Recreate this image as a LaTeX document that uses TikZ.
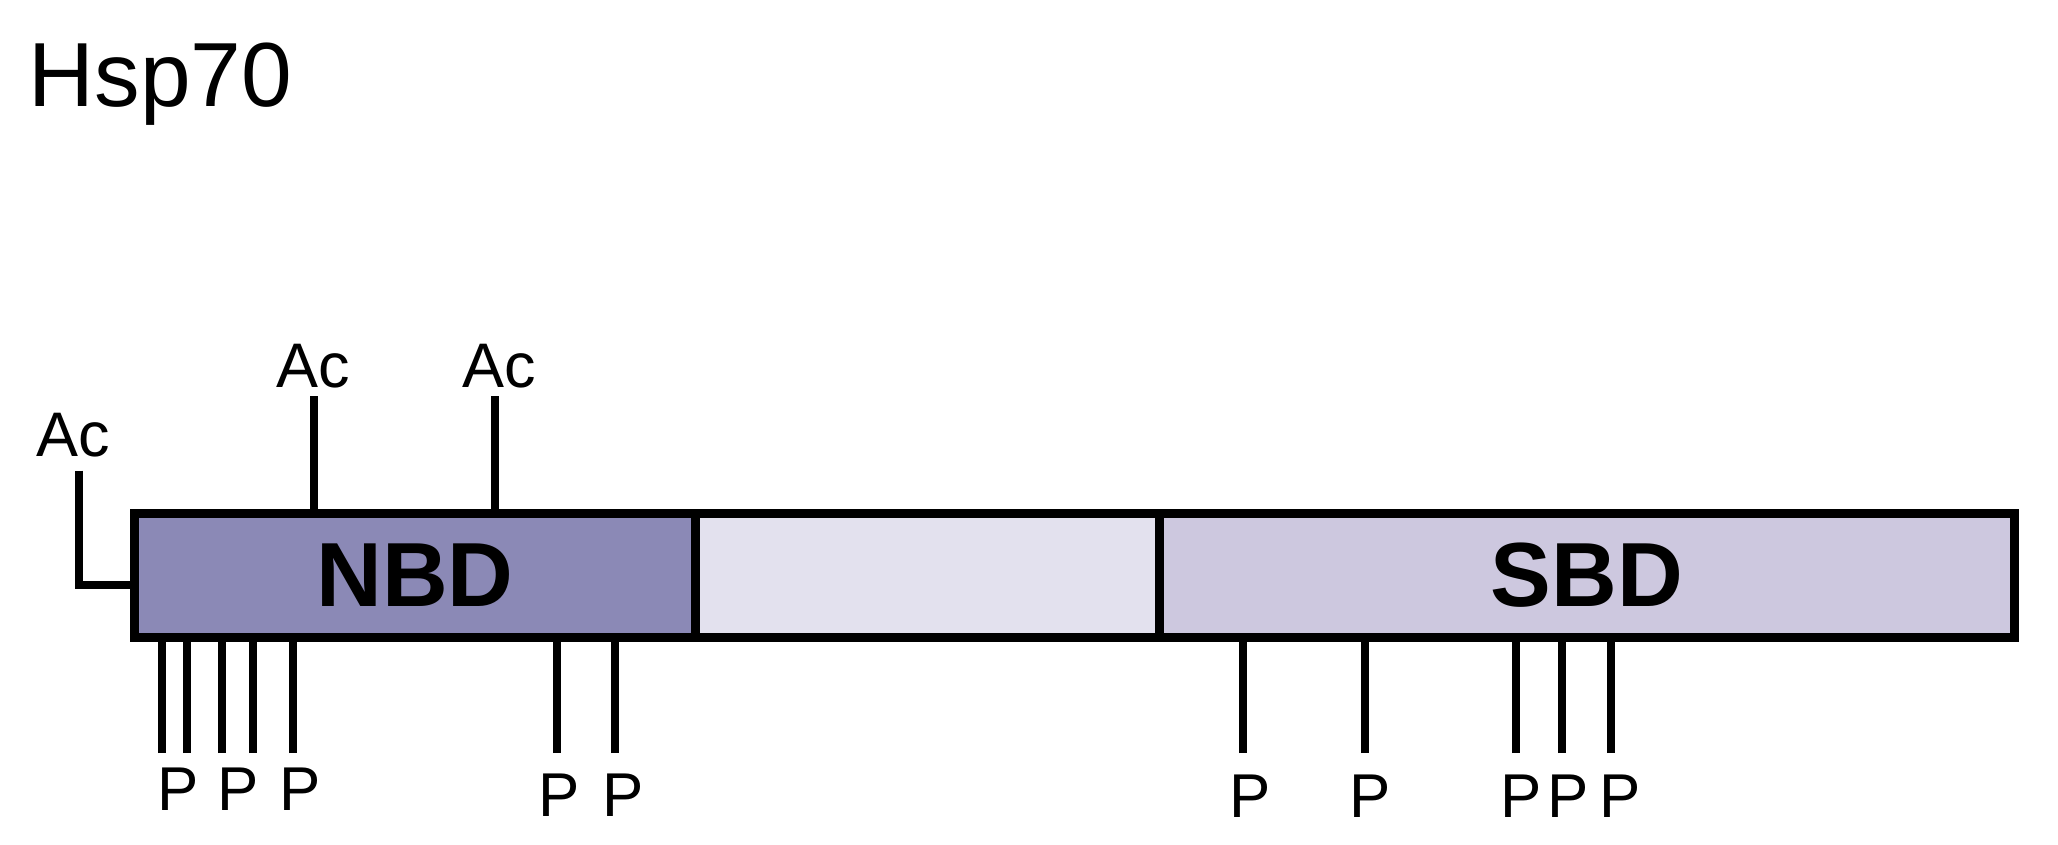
\documentclass[tikz,border=0pt]{standalone}
\usepackage{fontspec}
\setmainfont{Liberation Sans}
\definecolor{nbdcol}{RGB}{139,137,182}
\definecolor{linkcol}{RGB}{227,225,238}
\definecolor{sbdcol}{RGB}{205,200,223}
\tikzset{
  dombox/.style={draw=black, line width=0.088cm, minimum height=1.242cm, inner sep=0pt, outer sep=0pt,
    font=\fontsize{25.9pt}{30pt}\selectfont\bfseries},
  siteline/.style={line width=0.08cm},
  aclab/.style={inner sep=0pt, anchor=base, font=\fontsize{17.9pt}{20pt}\selectfont},
  plab/.style={inner sep=0pt, anchor=base, font=\fontsize{17.6pt}{20pt}\selectfont},
  titlelab/.style={inner sep=0pt, anchor=base west, font=\fontsize{25.9pt}{30pt}\selectfont}
}
\begin{document}
\begin{tikzpicture}[x=0.01cm,y=-0.01cm]
\useasboundingbox (0,0) rectangle (2058,844);
\node[titlelab] (hsp) at (28,106) {Hsp70};
% domains
\node[dombox, fill=nbdcol, minimum width=5.611cm] (nbd) at (414.95,575.4) {NBD};
\node[dombox, fill=linkcol, minimum width=4.643cm] (linker) at (927.65,575.4) {};
\node[dombox, fill=sbdcol, minimum width=8.542cm] (sbd) at (1586.9,575.4) {SBD};
% acetylation sites
\coordinate (ac1top) at (78.8,470.7);
\coordinate (ac1join) at (134.4,584.5);
\coordinate (ac2top) at (314,396);
\coordinate (ac3top) at (495,396);
\draw[siteline] (ac1top) |- (ac1join);
\draw[siteline] (ac2top) -- (ac2top |- nbd.north);
\draw[siteline] (ac3top) -- (ac3top |- nbd.north);
\node[aclab] (ac1) at (73,456) {Ac};
\node[aclab] (ac2) at (313,387) {Ac};
\node[aclab] (ac3) at (499,387) {Ac};
% phosphorylation sites
\foreach \x [count=\i] in {161.8,186.8,222.3,252.6,293.4,557.4,615.4} {
  \coordinate (pn\i) at (\x,753);
  \draw[siteline] (pn\i) -- (pn\i |- nbd.south);
}
\foreach \x [count=\i] in {1243.4,1364.7,1515.5,1561.8,1610.8} {
  \coordinate (ps\i) at (\x,753);
  \draw[siteline] (ps\i) -- (ps\i |- sbd.south);
}
\node[plab] (p1) at (178.5,810.7) {P};
\node[plab] (p2) at (237.8,810.7) {P};
\node[plab] (p3) at (300,810.7) {P};
\node[plab] (p4) at (559.5,816.7) {P};
\node[plab] (p5) at (623,816.7) {P};
\node[plab] (p6) at (1250,817) {P};
\node[plab] (p7) at (1370,817) {P};
\node[plab] (p8) at (1521,817) {P};
\node[plab] (p9) at (1568,817) {P};
\node[plab] (p10) at (1620,817) {P};
\end{tikzpicture}
\end{document}
